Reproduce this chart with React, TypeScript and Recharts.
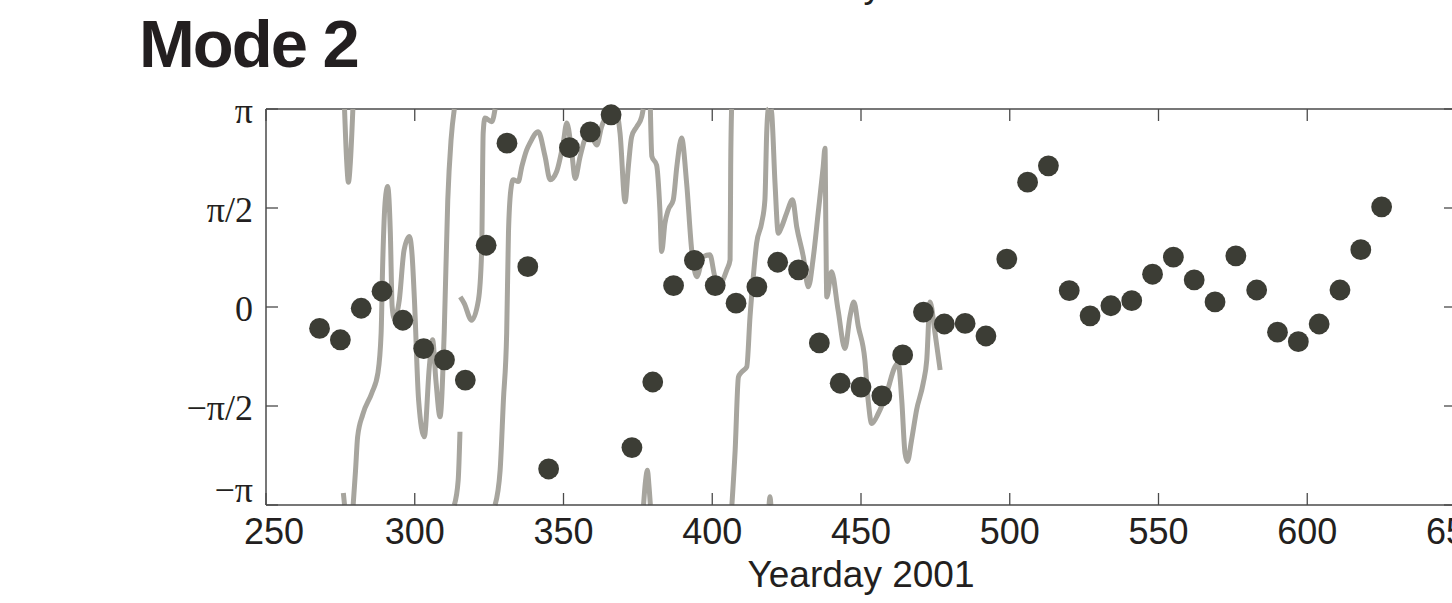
import React from 'react';
import { ComposedChart, Line, Scatter, XAxis, YAxis, ReferenceLine } from 'recharts';

// ---- data ----
const scatterDays = [
  268, 275, 282, 289, 296, 303, 310, 317, 324, 331, 338, 345, 352, 359, 366, 373, 380,
  387, 394, 401, 408, 415, 422, 429, 436, 443, 450, 457, 464, 471, 478, 485, 492, 499,
  506, 513, 520, 527, 534, 541, 548, 555, 562, 569, 576, 583, 590, 597, 604, 611, 618, 625,
];
const scatterPhase = [
  -0.34, -0.52, -0.02, 0.25, -0.21, -0.66, -0.84, -1.16, 0.98, 2.6, 0.64, -2.57, 2.53,
  2.78, 3.05, -2.23, -1.19, 0.34, 0.74, 0.34, 0.06, 0.32, 0.71, 0.59, -0.57, -1.21,
  -1.27, -1.41, -0.76, -0.08, -0.27, -0.26, -0.46, 0.76, 1.98, 2.24, 0.26, -0.14, 0.02,
  0.1, 0.52, 0.79, 0.43, 0.08, 0.81, 0.27, -0.4, -0.55, -0.27, 0.27, 0.91, 1.59,
];

const P = Math.PI;
// gray line; null phase = break where the phase wraps
const lineDays = [
  276.0, 276.4, 276.4,
  276.4, 277.1, 277.7, 278.4, 279.2, 279.2,
  279.3, 280.1, 280.8, 282.5, 285.6, 287.6, 288.7, 289.2, 290.1, 290.9, 291.8, 292.4, 293.1, 294.8,
  296.4, 298.2, 299.1, 299.9, 301.3, 303.2, 304.9, 306.0, 307.1, 308.5, 309.9, 311.1, 312.2, 313.3, 313.3,
  313.3, 314.6, 315.2, 315.2,
  315.3, 316.6, 319.1, 321.4, 322.5, 323.0, 323.6, 325.9, 327.0, 327.0,
  327.0, 328.7, 329.8, 330.9, 331.5, 332.3, 333.1, 334.8, 336.0, 337.6, 338.7, 341.5, 343.8, 345.5,
  347.7, 349.9, 351.1, 352.8, 353.9, 355.6, 357.8, 360.0, 361.2, 362.8, 364.5, 367.9, 369.0, 370.7,
  371.8, 372.9, 374.6, 376.3, 376.8, 376.8,
  376.9, 377.6, 378.2, 378.7, 379.2, 379.2,
  379.2, 379.7, 381.3, 382.4, 383.0, 384.1, 385.2, 386.9, 388.1, 389.7, 391.4, 393.1, 394.8, 397.0,
  399.2, 400.9, 402.6, 404.9, 406.0, 406.2, 406.5, 406.5,
  406.6, 407.7, 408.8, 409.9, 411.6, 412.7, 413.8, 414.9, 416.6, 417.7, 418.3, 418.8, 419.0, 419.0,
  419.1, 419.4, 419.7, 419.7,
  419.8, 420.0, 421.1, 422.2, 423.3, 425.0, 427.0, 428.4, 430.6, 432.3, 434.0, 435.6, 437.3, 437.9,
  438.2, 438.5, 440.1, 442.3, 444.6, 446.3, 447.6, 449.1, 451.3, 452.4, 453.6, 455.8, 458.6, 461.4,
  462.5, 463.7, 464.8, 465.6, 467.0, 468.7, 470.9, 472.1, 473.2, 474.9, 476.6,
];
const linePhase = [
  -2.95, -P, null,
  P, 2.33, 1.98, 2.33, P, null,
  -P, -2.59, -2.06, -1.71, -1.36, -1.05, -0.41, 0.64, 1.7, 1.91, 1.17, 0.01, -0.18, 0.11,
  0.9, 1.12, 0.83, 0.11, -1.48, -2.06, -0.95, -0.52, -1.16, -1.74, -0.41, 1.7, 2.65, P, null,
  -P, -2.75, -1.98, null,
  0.16, 0.06, -0.21, 0.11, 0.9, 2.76, 3.0, 2.94, P, null,
  -P, -2.59, -1.48, -0.41, 1.17, 1.86, 2.02, 1.99, 2.23, 2.49, 2.6, 2.78, 2.39, 2.02,
  2.15, 2.6, 2.92, 2.44, 2.04, 2.39, 2.7, 2.65, 2.57, 2.86, 3.02, 3.07, 2.76, 1.67,
  2.23, 2.7, 2.86, 3.02, P, null,
  -P, -2.75, -2.59, -2.82, -P, null,
  P, 2.39, 2.25, 1.54, 0.88, 1.33, 1.54, 1.7, 2.23, 2.68, 1.96, 0.9, 0.48, 0.8,
  0.83, 0.48, 0.38, 0.59, 0.75, 2.23, P, null,
  -P, -2.27, -1.11, -1.03, -0.95, -0.15, 0.48, 1.01, 1.33, 1.7, 2.76, 3.13, P, null,
  -P, -3.01, -P, null,
  P, 3.07, 1.96, 1.17, 1.27, 1.49, 1.7, 1.27, 0.8, 0.32, 0.8, 1.49, 2.23, 2.52,
  1.17, 0.16, 0.56, -0.05, -0.66, -0.15, 0.08, -0.31, -0.84, -1.48, -1.85, -1.69, -1.37, -0.95,
  -0.89, -1.48, -2.32, -2.45, -2.11, -1.63, -1.21, -0.84, 0.08, -0.42, -1.0,
];

const xTicks = [250, 300, 350, 400, 450, 500, 550, 600, 650];
const yTickValues = [-P, -P / 2, 0, P / 2, P];
const yTickLabels = ['\u2212\u03c0', '\u2212\u03c0/2', '0', '\u03c0/2', '\u03c0'];

const scatterData = scatterDays.map((x, i) => ({ x, y: scatterPhase[i] }));
const lineData = lineDays.map((x, i) => ({ x, y: linePhase[i] }));

// ---- layout / style ----
const W = 1500;
const H = 603;
const AX_W = 1; // y-axis band width
const AX_H = 1; // x-axis band height
const MARGIN = { top: 109, right: 44, bottom: 98 - AX_H, left: 266 - AX_W };
const PW = 1190;
const PH = 396;
const AXIS = '#4a4a4a';
const TEXT = '#231f20';
const DOT = '#3c3d35';
const LINE = '#a7a59e';
const TICK = 12;

const XTick = (props: any) => {
  const { x, y, payload } = props;
  const v = payload.value;
  return (
    <g>
      <line x1={x} x2={x} y1={y} y2={y - TICK} stroke={AXIS} strokeWidth={1.3} />
      <line x1={x} x2={x} y1={y - PH} y2={y - PH + TICK} stroke={AXIS} strokeWidth={1.3} />
      <text
        x={x + (v === 250 ? 8 : 0)}
        y={y + 39}
        textAnchor="middle"
        fontFamily="'Liberation Sans', Arial, sans-serif"
        fontSize={36}
        fill={TEXT}
      >
        {v}
      </text>
    </g>
  );
};

const YTick = (props: any) => {
  const { x, y, payload } = props;
  const idx = yTickValues.findIndex((v) => Math.abs(v - payload.value) < 1e-6);
  const label = idx >= 0 ? yTickLabels[idx] : '';
  const dy = idx === 0 ? -3 : 14;
  return (
    <g>
      <line x1={x} x2={x + TICK} y1={y} y2={y} stroke={AXIS} strokeWidth={1.3} />
      <line x1={x + PW - TICK} x2={x + PW} y1={y} y2={y} stroke={AXIS} strokeWidth={1.3} />
      <text
        x={x - 13}
        y={y + dy}
        textAnchor="end"
        fontFamily="'Liberation Serif', 'Times New Roman', serif"
        fontSize={36}
        fill={TEXT}
      >
        {label}
      </text>
    </g>
  );
};

const Dot = (props: any) => {
  const { cx, cy } = props;
  if (cx == null || cy == null) return null;
  return <circle cx={cx} cy={cy} r={10.4} fill={DOT} />;
};

export default function App() {
  return (
    <div
      style={{
        position: 'fixed',
        left: 0,
        top: 0,
        width: 1452,
        height: 603,
        overflow: 'hidden',
        background: '#fff',
      }}
    >
      <ComposedChart width={W} height={H} margin={MARGIN}>
        <XAxis
          dataKey="x"
          type="number"
          domain={[250, 650]}
          ticks={xTicks}
          interval={0}
          height={AX_H}
          tickSize={0}
          tickMargin={0}
          tickLine={false}
          axisLine={{ stroke: AXIS, strokeWidth: 1.5 }}
          tick={<XTick />}
          allowDataOverflow
        />
        <YAxis
          dataKey="y"
          type="number"
          domain={[-P, P]}
          ticks={yTickValues}
          interval={0}
          width={AX_W}
          tickSize={0}
          tickMargin={0}
          tickLine={false}
          axisLine={{ stroke: AXIS, strokeWidth: 1.5 }}
          tick={<YTick />}
        />
        <ReferenceLine y={P} stroke={AXIS} strokeWidth={1.5} />
        <ReferenceLine x={650} stroke={AXIS} strokeWidth={1.5} />
        <Line
          data={lineData}
          dataKey="y"
          type="monotone"
          stroke={LINE}
          strokeWidth={5}
          strokeLinecap="butt"
          strokeLinejoin="round"
          dot={false}
          activeDot={false}
          connectNulls={false}
          isAnimationActive={false}
        />
        <Scatter data={scatterData} dataKey="y" shape={<Dot />} isAnimationActive={false} />
      </ComposedChart>
      <svg
        width={1452}
        height={603}
        style={{ position: 'absolute', left: 0, top: 0, pointerEvents: 'none' }}
      >
        <text
          x={861}
          y={-3}
          textAnchor="middle"
          fontFamily="'Liberation Sans', Arial, sans-serif"
          fontSize={37}
          fill={TEXT}
        >
          Yearday 2001
        </text>
        <text
          x={139}
          y={67}
          fontFamily="'Liberation Sans', Arial, sans-serif"
          fontWeight="bold"
          fontSize={67}
          letterSpacing={-2}
          fill={TEXT}
        >
          Mode 2
        </text>
        <text
          x={861}
          y={587}
          textAnchor="middle"
          fontFamily="'Liberation Sans', Arial, sans-serif"
          fontSize={37}
          fill={TEXT}
        >
          Yearday 2001
        </text>
      </svg>
    </div>
  );
}
